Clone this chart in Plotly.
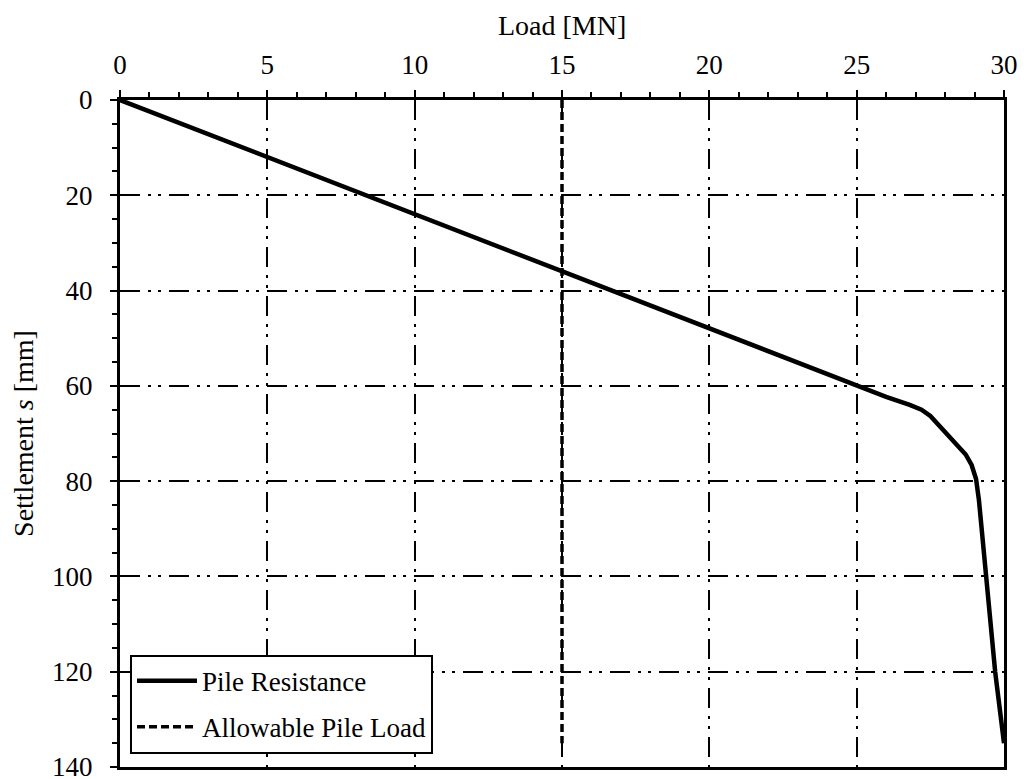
import plotly.graph_objects as go

# Pile resistance curve (load in MN, settlement in mm)
load_resistance = [0, 25, 26, 26.8, 27.2, 27.5, 27.8, 28.1, 28.4, 28.7, 28.9, 29.05, 29.15, 29.4, 29.7, 30]
settlement_resistance = [0, 60, 62.3, 64, 65, 66.3, 68.3, 70.6, 72.4, 74.4, 76.6, 79.5, 84, 100, 120, 135]

# Allowable pile load
load_allowable = [15, 15]
settlement_allowable = [0, 135]

x_ticks = [0, 5, 10, 15, 20, 25, 30]
y_ticks = [0, 20, 40, 60, 80, 100, 120, 140]

FONT = "Liberation Serif"
grid_dash = "20px,8px,3px,7px,3px,8px"

fig = go.Figure()
fig.add_trace(go.Scatter(
    x=load_resistance, y=settlement_resistance, mode="lines",
    name="Pile Resistance", legendgroup="a",
    line=dict(color="black", width=4.5),
))
fig.add_trace(go.Scatter(
    x=load_allowable, y=settlement_allowable, mode="lines",
    name="Allowable Pile Load", legendgroup="b",
    line=dict(color="black", width=3.5, dash="8px,4px"),
))

fig.update_layout(
    width=1018, height=771,
    paper_bgcolor="white", plot_bgcolor="white",
    margin=dict(l=112, r=22, t=92, b=12),
    font=dict(family=FONT, size=27, color="black"),
    showlegend=True,
    legend=dict(
        x=0.0113, y=0.02, xanchor="left", yanchor="bottom",
        bgcolor="white", bordercolor="black", borderwidth=2,
        font=dict(family=FONT, size=27, color="black"),
        itemwidth=60, tracegroupgap=8,
    ),
    annotations=[dict(
        text="Load [MN]", xref="paper", yref="paper", x=0.5, y=1,
        xanchor="center", yanchor="middle", yshift=75, showarrow=False,
        font=dict(family=FONT, size=28, color="black"),
    )],
    xaxis=dict(
        side="top", range=[0, 30], tickvals=x_ticks, automargin=False,
        showline=True, linecolor="black", linewidth=3, mirror=True,
        ticks="outside", ticklen=7, tickwidth=2, tickcolor="black",
        ticklabelstandoff=5, ticklabeloverflow="allow",
        minor=dict(dtick=1, ticks="outside", ticklen=5, tickwidth=2, tickcolor="black", showgrid=False),
        showgrid=True, gridcolor="black", gridwidth=2, griddash=grid_dash,
        zeroline=False,
        tickfont=dict(family=FONT, size=27),
    ),
    yaxis=dict(
        range=[140, 0], tickvals=y_ticks, automargin=False,
        showline=True, linecolor="black", linewidth=3, mirror=True,
        ticks="outside", ticklen=7, tickwidth=2, tickcolor="black",
        ticklabelstandoff=12, ticklabeloverflow="allow",
        minor=dict(dtick=5, ticks="outside", ticklen=5, tickwidth=2, tickcolor="black", showgrid=False),
        showgrid=True, gridcolor="black", gridwidth=2, griddash=grid_dash,
        zeroline=False,
        title=dict(text="Settlement <i>s</i> [mm]", font=dict(family=FONT, size=28), standoff=18),
        tickfont=dict(family=FONT, size=27),
    ),
)

fig.write_html("out.html")
